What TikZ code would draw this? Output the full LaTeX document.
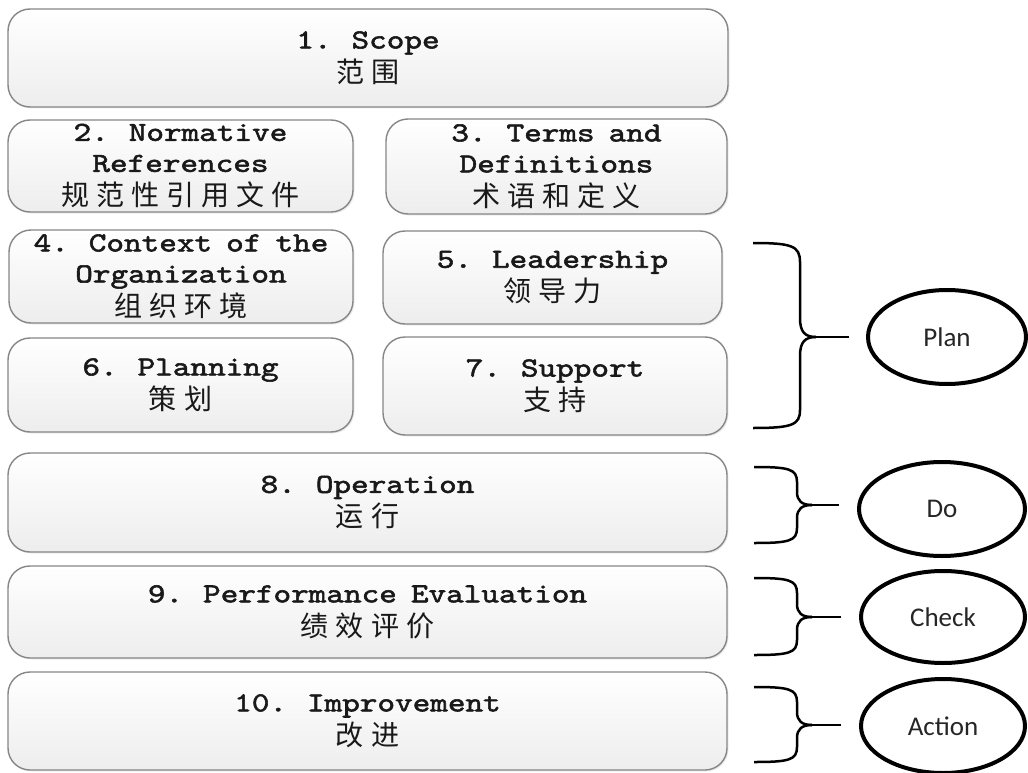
\documentclass[tikz,border=0pt]{standalone}
\usepackage{fontspec}
\newfontfamily\clausefont{lmmono10-regular.otf}[FakeStretch=1.22,FakeBold=2,WordSpace=0.8]
\newfontfamily\cjk{Noto Sans CJK SC}[LetterSpace=25,Scale=1.02]
\newfontfamily\phasefont{Carlito}
\usetikzlibrary{shapes.geometric,shadows}

\tikzset{
  clause/.style={rectangle, rounded corners=22pt, draw=gray!95, line width=1.4pt,
    top color=white, bottom color=gray!14,
    drop shadow={opacity=0.15, shadow xshift=1.5pt, shadow yshift=-1.5pt},
    align=center, text=black!90, inner sep=0pt,
    font=\clausefont\fontsize{27.5}{31}\selectfont},
  phase/.style={ellipse, draw=black, line width=4pt, inner sep=0pt,
    text=black!85, font=\phasefont\fontsize{27}{27}\selectfont},
  bracket/.style={black, line width=2.5pt}
}

\begin{document}
\begin{tikzpicture}[x=1pt, y=-1pt]

\useasboundingbox (0,0) rectangle (1028,773);

\node (scope) at (368,58) [clause, minimum width=720pt, minimum height=98pt] {1. Scope\\[3pt]{\cjk 范围}};
\node (norm) at (180.5,166) [clause, minimum width=345pt, minimum height=92pt] {2. Normative\\References\\[3pt]{\cjk 规范性引用文件}};
\node (terms) at (556.5,166.5) [clause, minimum width=341pt, minimum height=95pt] {3. Terms and\\Definitions\\[3pt]{\cjk 术语和定义}};
\node (context) at (181,276.5) [clause, minimum width=344pt, minimum height=93pt] {4. Context of the\\Organization\\[3pt]{\cjk 组织环境}};
\node (lead) at (552.5,277.5) [clause, minimum width=339pt, minimum height=93pt] {5. Leadership\\[3pt]{\cjk 领导力}};
\node (planning) at (180.5,385) [clause, minimum width=345pt, minimum height=94pt] {6. Planning\\[3pt]{\cjk 策划}};
\node (support) at (555,386) [clause, minimum width=344pt, minimum height=98pt] {7. Support\\[3pt]{\cjk 支持}};
\node (oper) at (367.5,502.5) [clause, minimum width=719pt, minimum height=99pt] {8. Operation\\[3pt]{\cjk 运行}};
\node (perf) at (367.5,612) [clause, minimum width=719pt, minimum height=92pt] {9. Performance Evaluation\\[3pt]{\cjk 绩效评价}};
\node (impr) at (367.5,721) [clause, minimum width=719pt, minimum height=98pt] {10. Improvement\\[3pt]{\cjk 改进}};

\node (plan) at (947,337) [phase, minimum width=158pt, minimum height=94pt] {Plan};
\node (do) at (942,509) [phase, minimum width=166pt, minimum height=94pt] {Do};
\node (check) at (943,617) [phase, minimum width=164pt, minimum height=92pt] {Check};
\node (act) at (943,726) [phase, minimum width=164pt, minimum height=94pt] {Action};

% plan brace
\coordinate (ptip) at (816,337);
\draw [bracket] (753,243) .. controls (792,243) and (800,246) .. (800,262) -- (800,318) .. controls (800,332) and (805,337) .. (ptip);
\draw [bracket] (753,428) .. controls (792,428) and (800,425) .. (800,410) -- (800,356) .. controls (800,342) and (805,337) .. (ptip);
\draw [bracket, shorten >=17pt] (ptip) -- (ptip -| plan.west);

% do brace
\coordinate (dtip) at (812,505);
\draw [bracket] (754,467) .. controls (789,467) and (797,469) .. (797,482) -- (797,492) .. controls (797,501) and (802,505) .. (dtip);
\draw [bracket] (754,543) .. controls (789,543) and (797,541) .. (797,528) -- (797,518) .. controls (797,509) and (802,505) .. (dtip);
\draw [bracket, shorten >=18pt] (dtip) -- (dtip -| do.west);

% check brace
\coordinate (ctip) at (812,617);
\draw [bracket] (754,578) .. controls (789,578) and (797,580) .. (797,593) -- (797,604) .. controls (797,613) and (802,617) .. (ctip);
\draw [bracket] (754,655) .. controls (789,655) and (797,653) .. (797,640) -- (797,630) .. controls (797,621) and (802,617) .. (ctip);
\draw [bracket, shorten >=18pt] (ctip) -- (ctip -| check.west);

% action brace
\coordinate (atip) at (812,725);
\draw [bracket] (754,687) .. controls (789,687) and (797,689) .. (797,702) -- (797,712) .. controls (797,721) and (802,725) .. (atip);
\draw [bracket] (754,762) .. controls (789,762) and (797,760) .. (797,747) -- (797,738) .. controls (797,729) and (802,725) .. (atip);
\draw [bracket, shorten >=18pt] (atip) -- (atip -| act.west);

\end{tikzpicture}
\end{document}
